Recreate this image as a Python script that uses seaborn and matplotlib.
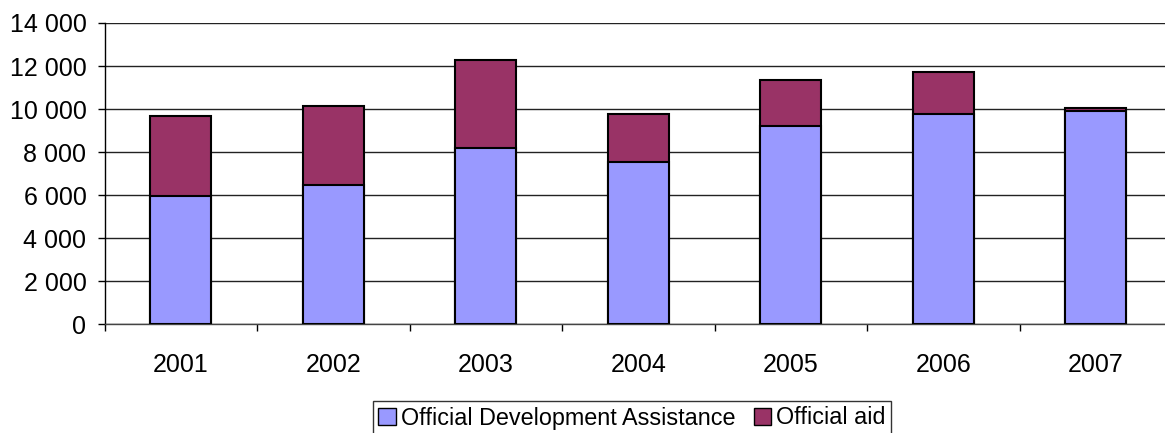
import matplotlib
matplotlib.use("Agg")
import matplotlib.pyplot as plt
import seaborn as sns
import pandas as pd
import numpy as np
from matplotlib.patches import Patch
from matplotlib.ticker import FuncFormatter, FixedLocator

years = ["2001", "2002", "2003", "2004", "2005", "2006", "2007"]
oda = [5950, 6480, 8210, 7530, 9230, 9750, 9890]
official_aid = [3740, 3660, 4080, 2240, 2130, 1990, 170]
y_ticks = [0, 2000, 4000, 6000, 8000, 10000, 12000, 14000]

sns.set_theme(style="white")
plt.rcParams['font.family'] = ['Liberation Sans', 'DejaVu Sans']
plt.rcParams['text.color'] = 'black'
plt.rcParams['xtick.color'] = 'black'
plt.rcParams['ytick.color'] = 'black'

df = pd.DataFrame({"year": years, "oda": oda, "aid": official_aid})
df["total"] = df["oda"] + df["aid"]

W, H = 1165, 433
fig = plt.figure(figsize=(W / 100, H / 100), dpi=100)
left, right, top, bottom = 104.5, 104.5 + 7 * 152.5, 23, 324.3
ax = fig.add_axes([left / W, 1 - bottom / H, (right - left) / W, (bottom - top) / H])

sns.barplot(data=df, x="year", y="total", color="#993366", saturation=1,
            width=0.4, edgecolor="black", linewidth=1.5, ax=ax, zorder=3)
sns.barplot(data=df, x="year", y="oda", color="#9999FF", saturation=1,
            width=0.4, edgecolor="black", linewidth=1.5, ax=ax, zorder=4)

ax.set_xlim(-0.5, len(years) - 0.5)
ax.set_ylim(0, 14000)
ax.set_yticks(y_ticks)
ax.yaxis.set_major_formatter(FuncFormatter(lambda v, p: f"{int(v):,}".replace(",", " ")))
ax.grid(axis="y", color="#222222", linewidth=1, zorder=0)
ax.set_axisbelow(True)
ax.set_xlabel("")
ax.set_ylabel("")

ax.xaxis.set_minor_locator(FixedLocator(np.arange(-0.5, len(years), 1.0)))
ax.tick_params(axis="x", which="major", length=0, pad=21, labelsize=18, labelcolor="black")
ax.tick_params(axis="x", which="minor", length=5, width=1, color="black", direction="out", bottom=True)
ax.tick_params(axis="y", length=5, width=1, color="black", direction="out", left=True,
               labelsize=18, pad=8, labelcolor="black")

for s in ["top", "right"]:
    ax.spines[s].set_visible(False)
ax.spines["left"].set_color("black")
ax.spines["bottom"].set_color("#444444")
for s in ["left", "bottom"]:
    ax.spines[s].set_visible(True)
    ax.spines[s].set_linewidth(1)

handles = [Patch(facecolor="#9999FF", edgecolor="black", label="Official Development Assistance"),
           Patch(facecolor="#993366", edgecolor="black", label="Official aid")]
leg = fig.legend(handles=handles, loc="center", bbox_to_anchor=(632 / W, 1 - 418 / H), ncol=2,
                 frameon=True, fontsize=16.8, handlelength=0.75, handleheight=0.75,
                 handletextpad=0.2, columnspacing=0.8, borderpad=0.25, borderaxespad=0,
                 fancybox=False)
leg.get_frame().set_edgecolor("black")
leg.get_frame().set_linewidth(1)
for t in leg.get_texts():
    t.set_color("black")

fig.savefig("out.png", dpi=100)
